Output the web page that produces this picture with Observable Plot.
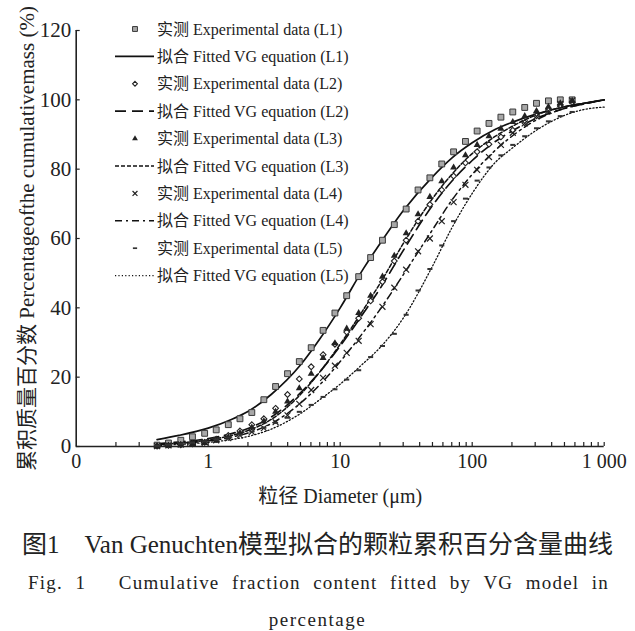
<!DOCTYPE html>
<html><head><meta charset="utf-8">
<script src="https://cdn.jsdelivr.net/npm/d3@7"></script>
<script src="https://cdn.jsdelivr.net/npm/@observablehq/plot@0.6"></script>
<style>
body{margin:0;background:#fff;}
#wrap{position:relative;width:635px;height:631px;font-family:"Liberation Serif","Noto Sans CJK SC",serif;color:#222;overflow:hidden;}
#legend{position:absolute;left:0;top:0;pointer-events:none;}
.cap-zh{position:absolute;left:0;width:635px;top:529px;text-align:center;font-size:25px;line-height:32px;white-space:nowrap;}
.cap-en{position:absolute;left:28px;width:581px;top:570px;font-size:19px;line-height:26px;text-align:justify;text-align-last:justify;letter-spacing:1.2px;white-space:nowrap;}
.cap-en2{position:absolute;left:0;width:635px;top:607px;text-align:center;font-size:19px;line-height:26px;letter-spacing:1.5px;}
</style></head><body><div id="wrap"></div>
<script>
// ---- data ----
const series = ["L1", "L2", "L3", "L4", "L5"];
const dExp = [0.41,0.50,0.62,0.76,0.94,1.15,1.42,1.74,2.14,2.64,3.24,3.99,4.9,6.03,7.42,9.12,11.2,13.8,17.0,20.9,25.7,31.6,38.9,47.8,58.8,72.3,88.9,109,134,165,203,250,307,378,465,572];
const expL1 = [0.4,1.0,1.8,2.8,3.8,4.8,6.3,8.0,9.8,13.5,17.3,21.0,24.5,28.5,33.5,38.5,43.5,49.0,54.5,59.5,64.0,68.5,74.0,77.5,81.5,85.0,88.0,91.0,93.2,95.0,96.5,97.8,99.0,99.7,100,100];
const expL2 = [0.1,0.3,0.5,0.8,1.2,2.1,3.2,4.5,6.3,8.0,11.0,15.0,19.5,23.0,26.5,29.5,33.0,37.0,42.0,47.5,53.5,59.5,65.0,69.8,74.0,78.0,81.8,85.0,87.2,89.3,91.2,93.4,95.4,97.1,98.5,99.4];
const expL3 = [0.1,0.2,0.4,0.7,1.0,1.7,2.7,3.9,5.5,7.3,10.0,13.0,16.8,21.0,25.5,29.8,34.0,38.5,43.5,49.0,55.0,61.5,67.0,72.0,76.5,80.5,84.0,87.0,89.5,91.7,93.6,95.3,96.8,98.0,99.0,99.7];
const expL4 = [0.1,0.3,0.6,0.9,1.3,1.8,2.4,3.2,4.2,5.3,7.0,9.0,12.3,16.3,19.8,23.3,27.0,30.5,35.3,40.3,45.8,51.0,56.3,60.0,65.0,70.5,75.5,79.8,83.5,87.0,90.5,93.2,95.2,96.8,98.8,99.8];
const expL5 = [0.2,0.5,0.8,1.1,1.5,2.0,2.6,3.4,4.3,5.4,6.8,8.3,10.0,12.0,14.3,16.5,19.3,22.0,25.8,29.0,32.5,38.0,45.0,51.2,58.0,65.0,71.5,76.7,80.5,84.0,87.0,89.5,91.8,93.8,95.3,96.5];

const dFit = [0.41,0.6,1,1.5,2,3,5,7,10,15,20,30,50,70,100,150,200,300,500,700,1000];
const fitL1 = [2.0,3.2,5.3,7.8,10.1,15.0,23.5,31.0,40.0,51.3,58.5,68.0,77.8,83.2,87.6,91.5,93.5,95.8,98.0,99.0,100];
const fitL2 = [0.8,1.3,2.3,3.7,5.2,8.5,15.5,21.5,29.0,38.5,45.5,56.5,69.5,76.5,82.5,88.0,91.0,94.5,97.5,98.8,100];
const fitL3 = [0.6,1.0,1.9,3.2,4.6,7.8,15.0,21.5,29.5,39.5,47.0,58.5,71.5,78.5,84.5,89.5,92.3,95.5,98.0,99.0,100];
const fitL4 = [0.5,0.9,1.6,2.7,3.9,6.6,12.5,17.8,24.5,33.0,39.5,49.5,62.5,71.0,78.5,85.5,89.5,94.0,97.5,98.8,100];
const fitL5 = [0.3,0.6,1.2,2.0,2.9,5.0,9.5,13.5,18.0,24.0,28.5,37.0,52.0,63.0,73.0,82.0,86.0,91.0,95.5,97.2,97.9];

const xLabelTicks = [0.1, 1, 10, 100, 1000];
const xLabelText = ["0", "1", "10", "100", "1 000"];
const yTicks = [0, 20, 40, 60, 80, 100, 120];

const expLegend = series.map(s => `实测 Experimental data (${s})`);
const fitLegend = series.map(s => `拟合 Fitted VG equation (${s})`);
const xTitle = "粒径 Diameter (μm)";
const yTitle = "累积质量百分数 Percentageofthe cumulativemass (%)";

// ---- styles ----
const dashSymbol = {draw(ctx, size) {const w = Math.sqrt(size) * 1.1, h = w * 0.4; ctx.moveTo(-w/2,-h/2); ctx.lineTo(w/2,-h/2); ctx.lineTo(w/2,h/2); ctx.lineTo(-w/2,h/2); ctx.closePath();}};
const markerStyle = {
  L1: {symbol: "square", r: 3.3, fill: "#a8a8a8", stroke: "#3a3a3a", strokeWidth: 1},
  L2: {symbol: "diamond2", r: 2.6, fill: "white", stroke: "#222", strokeWidth: 1.1},
  L3: {symbol: "triangle", r: 2.6, fill: "#222", stroke: "none"},
  L4: {symbol: "times", r: 2.8, fill: "none", stroke: "#222", strokeWidth: 1.2},
  L5: {symbol: dashSymbol, r: 2.6, fill: "#333", stroke: "none"}
};
const lineStyle = {
  L1: {strokeWidth: 1.7, strokeDasharray: null},
  L2: {strokeWidth: 1.7, strokeDasharray: "11,6"},
  L3: {strokeWidth: 1.5, strokeDasharray: "4,2"},
  L4: {strokeWidth: 1.5, strokeDasharray: "7,4,2,4"},
  L5: {strokeWidth: 1.3, strokeDasharray: "1.2,2.2"}
};

// ---- tidy tables ----
const expVals = [expL1, expL2, expL3, expL4, expL5];
const fitVals = [fitL1, fitL2, fitL3, fitL4, fitL5];
const expData = series.flatMap((s, i) => dExp.map((d, j) => ({s, d, v: expVals[i][j]})));
const fitData = series.flatMap((s, i) => dFit.map((d, j) => ({s, d, v: fitVals[i][j]})));

const minorTicks = [];
for (const dec of [0.1, 1, 10, 100]) for (let k = 2; k <= 10; k++) minorTicks.push(+(dec * k).toPrecision(6));

const FONT = '"Liberation Serif","Noto Sans CJK SC",serif';
const chart = Plot.plot({
  width: 635, height: 510,
  marginLeft: 75.7, marginRight: 31.3, marginTop: 30, marginBottom: 64,
  style: {fontFamily: FONT, fontSize: "20px", color: "#222", background: "white", overflow: "visible"},
  x: {type: "log", domain: [0.1, 1000]},
  y: {domain: [0, 120]},
  marks: [
    Plot.axisX(minorTicks, {tickSize: -4, fill: "none", strokeWidth: 1.2}),
    Plot.axisX(xLabelTicks, {tickSize: 0, tickPadding: 7, fontSize: 20,
      tickFormat: d => xLabelText[xLabelTicks.indexOf(d)],
      label: xTitle, labelAnchor: "center", labelArrow: "none", labelOffset: 56}),
    Plot.axisY(yTicks, {tickSize: -4, fill: "none", strokeWidth: 1.2}),
    Plot.axisY(yTicks, {tickSize: 0, tickPadding: 5, fontSize: 21,
      label: yTitle, labelAnchor: "center", labelArrow: "none", labelOffset: 57}),
    Plot.ruleX([0.1], {stroke: "#222", strokeWidth: 1.6}),
    Plot.ruleY([0], {stroke: "#222", strokeWidth: 1.6}),
    ...series.map(s => Plot.line(fitData.filter(r => r.s === s), {x: "d", y: "v", curve: "monotone-x", stroke: "#111", ...lineStyle[s]})),
    ...series.map(s => Plot.dot(expData.filter(r => r.s === s), {x: "d", y: "v", ...markerStyle[s]}))
  ]
});

const wrap = document.getElementById("wrap");
wrap.appendChild(chart);

// ---- legend overlay ----
const lg = d3.select(wrap).append("svg").attr("id", "legend").attr("width", 400).attr("height", 300)
  .style("font-family", FONT).style("font-size", "16px");
const symMap = {square: d3.symbolSquare, diamond2: d3.symbolDiamond2, triangle: d3.symbolTriangle, times: d3.symbolTimes};
series.forEach((s, i) => {
  const yp = 29 + i * 2 * 27.4, yl = yp + 27.4;
  const m = markerStyle[s];
  const symType = typeof m.symbol === "string" ? symMap[m.symbol] : m.symbol;
  lg.append("path").attr("transform", `translate(135,${yp})`)
    .attr("d", d3.symbol(symType, Math.PI * m.r * m.r * 0.7)())
    .attr("fill", m.fill).attr("stroke", m.stroke).attr("stroke-width", m.strokeWidth || 1);
  lg.append("text").attr("x", 157).attr("y", yp).attr("dy", "0.35em").attr("fill", "#222").text(expLegend[i]);
  const ls = lineStyle[s];
  lg.append("line").attr("x1", 115).attr("x2", 154).attr("y1", yl).attr("y2", yl)
    .attr("stroke", "#111").attr("stroke-width", ls.strokeWidth).attr("stroke-dasharray", ls.strokeDasharray);
  lg.append("text").attr("x", 157).attr("y", yl).attr("dy", "0.35em").attr("fill", "#222").text(fitLegend[i]);
});

// ---- captions ----
const c1 = document.createElement("div"); c1.className = "cap-zh";
c1.textContent = "图1\u3000Van Genuchten模型拟合的颗粒累积百分含量曲线";
const c2 = document.createElement("div"); c2.className = "cap-en";
c2.textContent = "Fig. 1\u2003 Cumulative fraction content fitted by VG model in";
const c3 = document.createElement("div"); c3.className = "cap-en2";
c3.textContent = "percentage";
wrap.append(c1, c2, c3);
</script>
</body></html>
